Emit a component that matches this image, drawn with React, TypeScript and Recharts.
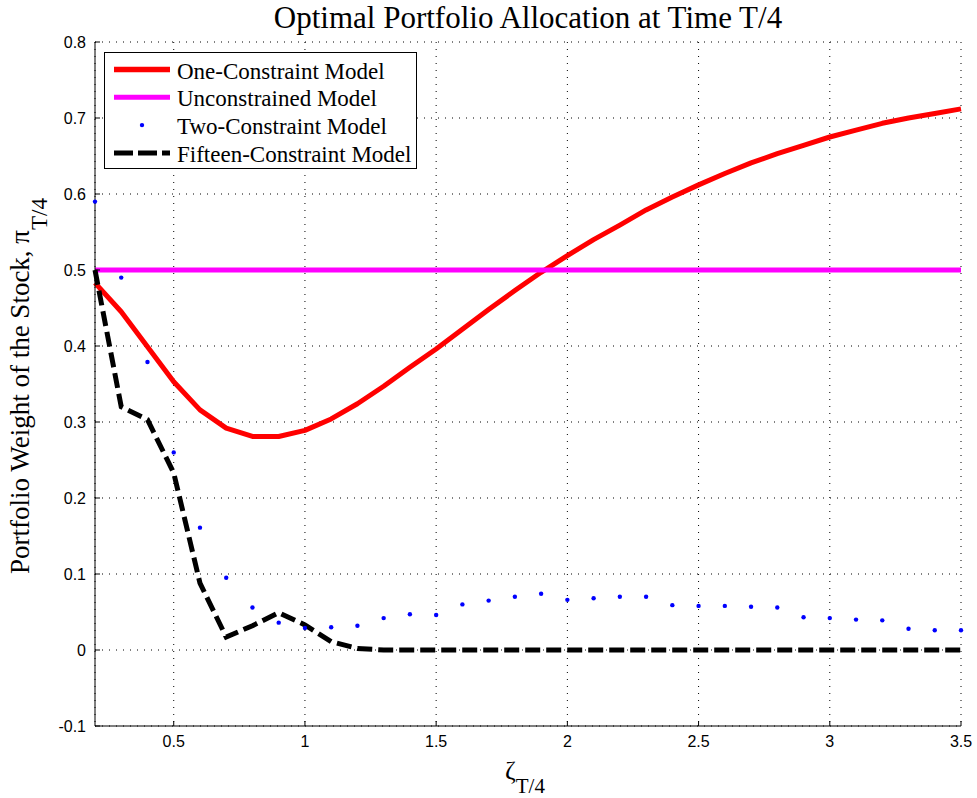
import { LineChart, Line, XAxis, YAxis, CartesianGrid, Legend, Customized } from "recharts";

// zeta grid at time T/4
const zeta = [
  0.2, 0.3, 0.4, 0.5, 0.6, 0.7, 0.8, 0.9, 1.0, 1.1, 1.2, 1.3, 1.4, 1.5, 1.6, 1.7, 1.8,
  1.9, 2.0, 2.1, 2.2, 2.3, 2.4, 2.5, 2.6, 2.7, 2.8, 2.9, 3.0, 3.1, 3.2, 3.3, 3.4, 3.5,
];

const oneConstraint = [
  0.483, 0.445, 0.399, 0.353, 0.316, 0.292, 0.281, 0.281, 0.289, 0.304, 0.324, 0.347,
  0.372, 0.396, 0.422, 0.448, 0.473, 0.497, 0.519, 0.54, 0.559, 0.579, 0.596, 0.612,
  0.627, 0.641, 0.653, 0.664, 0.675, 0.684, 0.693, 0.7, 0.706, 0.712,
];

const unconstrainedWeight = 0.5;

const twoConstraint = [
  0.59, 0.49, 0.379, 0.26, 0.161, 0.095, 0.056, 0.036, 0.029, 0.03, 0.032, 0.042,
  0.047, 0.046, 0.06, 0.065, 0.07, 0.074, 0.066, 0.068, 0.07, 0.07, 0.059, 0.058,
  0.058, 0.057, 0.056, 0.043, 0.042, 0.04, 0.039, 0.028, 0.026, 0.026,
];

const fifteenConstraint = [
  0.5, 0.32, 0.303, 0.233, 0.088, 0.017, 0.032, 0.049, 0.033, 0.011, 0.002, 0, 0, 0,
  0, 0, 0, 0, 0, 0, 0, 0, 0, 0, 0, 0, 0, 0, 0, 0, 0, 0, 0, 0,
];

const xTicks = [0.5, 1, 1.5, 2, 2.5, 3, 3.5];
const yTicks = [-0.1, 0, 0.1, 0.2, 0.3, 0.4, 0.5, 0.6, 0.7, 0.8];

const legendNames = [
  "One-Constraint Model",
  "Unconstrained Model",
  "Two-Constraint Model",
  "Fifteen-Constraint Model",
];

const data = zeta.map((x, i) => ({
  x,
  one: oneConstraint[i],
  unc: unconstrainedWeight,
  two: twoConstraint[i],
  fifteen: fifteenConstraint[i],
}));

const serif = '"Liberation Serif", "Times New Roman", serif';
const sans = '"Liberation Sans", Arial, sans-serif';

const RED = "#ff0000";
const MAGENTA = "#ff00ff";
const BLUE = "#0000ff";

function Titles() {
  return (
    <g fill="#000" fontFamily={serif}>
      <text x={528} y={28} fontSize={31} textAnchor="middle">
        Optimal Portfolio Allocation at Time T/4
      </text>
      <text transform="translate(29,386) rotate(-90)" fontSize={27} textAnchor="middle">
        Portfolio Weight of the Stock, π
        <tspan fontSize={23} dy={18}>
          T/4
        </tspan>
      </text>
      <text x={505} y={779} fontSize={26}>
        ζ
        <tspan fontSize={21} dy={14}>
          T/4
        </tspan>
      </text>
    </g>
  );
}

function LegendBox() {
  const rowY = (i: number) => 17.5 + i * 27.8;
  return (
    <svg width={314} height={118} style={{ display: "block" }}>
      <rect x={0.5} y={0.5} width={312} height={116} fill="#fff" stroke="#000" />
      <line x1={10} x2={66} y1={rowY(0)} y2={rowY(0)} stroke={RED} strokeWidth={5.5} />
      <line x1={10} x2={66} y1={rowY(1)} y2={rowY(1)} stroke={MAGENTA} strokeWidth={5} />
      <circle cx={38} cy={rowY(2)} r={2.2} fill={BLUE} />
      <line
        x1={10}
        x2={66}
        y1={rowY(3)}
        y2={rowY(3)}
        stroke="#000"
        strokeWidth={5}
        strokeDasharray="19 5"
      />
      {legendNames.map((name, i) => (
        <text
          key={name}
          x={73}
          y={rowY(i) + 9}
          fontFamily={serif}
          fontSize={23}
          fill="#000"
        >
          {name}
        </text>
      ))}
    </svg>
  );
}

const fmt = (v: number) => String(v);

export default function App() {
  return (
    <div style={{ position: "absolute", left: 0, top: 0, background: "#fff" }}>
      <LineChart
        width={977}
        height={798}
        data={data}
        margin={{ top: 42, right: 16, bottom: 0, left: 0 }}
      >
        <CartesianGrid stroke="#000" strokeDasharray="1 6" strokeWidth={1} />
        <XAxis
          dataKey="x"
          type="number"
          domain={[0.2, 3.5]}
          ticks={xTicks}
          height={72}
          tickSize={-5}
          tickMargin={15}
          tickFormatter={fmt}
          axisLine={{ stroke: "#000" }}
          tickLine={{ stroke: "#000" }}
          tick={{ fill: "#000", fontFamily: sans, fontSize: 16 }}
        />
        <XAxis
          xAxisId="top"
          orientation="top"
          type="number"
          domain={[0.2, 3.5]}
          ticks={xTicks}
          allowDataOverflow
          height={0}
          tickSize={-5}
          tick={false}
          axisLine={{ stroke: "#000" }}
          tickLine={{ stroke: "#000" }}
        />
        <YAxis
          type="number"
          domain={[-0.1, 0.8]}
          ticks={yTicks}
          width={95}
          tickSize={-5}
          tickMargin={14}
          tickFormatter={fmt}
          axisLine={{ stroke: "#000" }}
          tickLine={{ stroke: "#000" }}
          tick={{ fill: "#000", fontFamily: sans, fontSize: 16 }}
        />
        <YAxis
          yAxisId="right"
          orientation="right"
          type="number"
          domain={[-0.1, 0.8]}
          ticks={yTicks}
          allowDataOverflow
          width={0}
          tickSize={-5}
          tick={false}
          axisLine={{ stroke: "#000" }}
          tickLine={{ stroke: "#000" }}
        />
        <Line
          dataKey="one"
          type="linear"
          stroke={RED}
          strokeWidth={5}
          strokeLinejoin="round"
          dot={false}
          activeDot={false}
          isAnimationActive={false}
        />
        <Line
          dataKey="unc"
          type="linear"
          stroke={MAGENTA}
          strokeWidth={5}
          dot={false}
          activeDot={false}
          isAnimationActive={false}
        />
        <Line
          dataKey="two"
          type="linear"
          stroke="none"
          dot={{ r: 2.2, fill: BLUE, stroke: "none", strokeWidth: 0 }}
          activeDot={false}
          isAnimationActive={false}
        />
        <Line
          dataKey="fifteen"
          type="linear"
          stroke="#000"
          strokeWidth={5}
          strokeDasharray="15 6"
          dot={false}
          activeDot={false}
          isAnimationActive={false}
        />
        <Legend
          layout="vertical"
          align="center"
          verticalAlign="middle"
          content={() => <LegendBox />}
          wrapperStyle={{ left: 104, top: 52, width: 314, height: 118, lineHeight: 0 }}
        />
        <Customized component={<Titles />} />
      </LineChart>
    </div>
  );
}
